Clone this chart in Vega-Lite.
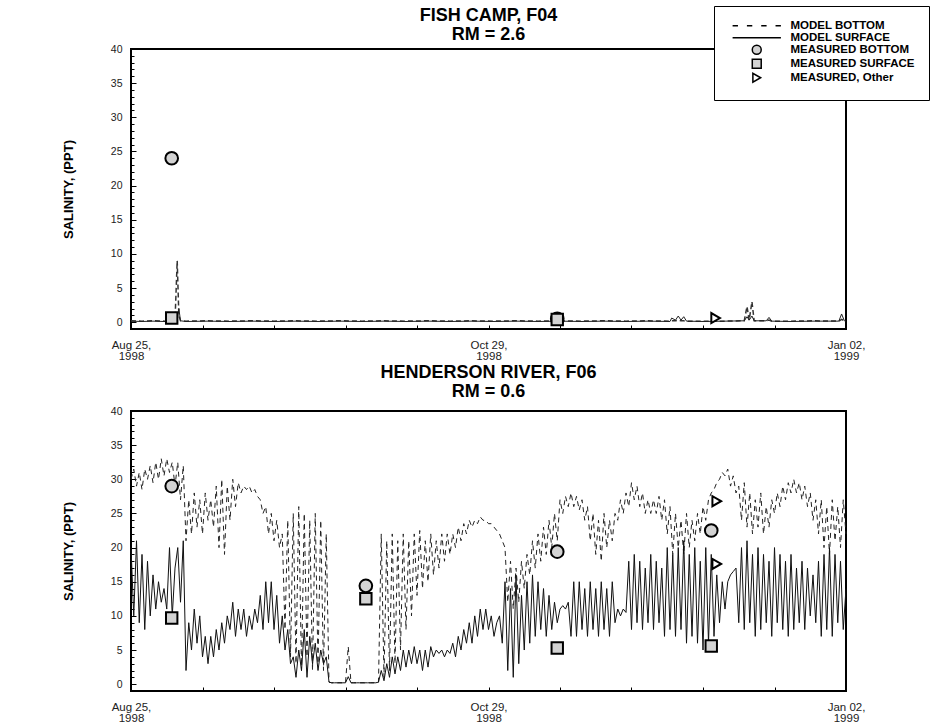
{
  "$schema": "https://vega.github.io/schema/vega-lite/v6.json",
  "background": "white",
  "padding": {"left": 61, "top": 4, "right": 5, "bottom": 0},
  "spacing": 0,
  "config": {
    "font": "Liberation Sans",
    "view": {"stroke": "black", "strokeWidth": 2},
    "axis": {"labelFont": "Liberation Sans", "labelFontSize": 10.5, "labelColor": "#222", "titleFont": "Liberation Sans", "titleFontSize": 13, "titleFontWeight": "bold", "titleColor": "black", "tickColor": "black", "domain": false, "grid": false},
    "title": {"font": "Liberation Sans", "fontSize": 18, "fontWeight": "bold", "color": "black", "anchor": "middle", "frame": "group"},
    "legend": {"title": null, "orient": "none", "legendX": 583, "legendY": -43, "fillColor": "white", "strokeColor": "black", "padding": 14,
      "labelFont": "Liberation Sans", "labelFontSize": 11.5, "labelFontWeight": "bold", "labelColor": "black",
      "symbolSize": 80, "symbolOffset": 23, "labelOffset": 28, "rowPadding": -2, "symbolStrokeWidth": 1.5}
  },
  "resolve": {"scale": {"shape": "independent", "fill": "independent", "size": "independent", "stroke": "independent"}, "legend": {"shape": "independent", "fill": "independent", "size": "independent", "stroke": "independent"}},
  "datasets": {
    "f04": [
      {"d":0,"s":0.15,"b":0.2},{"d":2,"s":0.1,"b":0.15},{"d":4,"s":0.15,"b":0.2},{"d":6,"s":0.1,"b":0.15},{"d":8,"s":0.15,"b":0.2},{"d":8.4,"s":0.3,"b":9},{"d":8.7,"s":2,"b":1},{"d":9,"s":0.2,"b":0.2},{"d":10,"s":0.1,"b":0.15},
      {"d":14,"s":0.15,"b":0.2},{"d":18,"s":0.1,"b":0.15},{"d":22,"s":0.15,"b":0.2},{"d":26,"s":0.1,"b":0.15},{"d":30,"s":0.15,"b":0.2},{"d":34,"s":0.1,"b":0.15},{"d":38,"s":0.15,"b":0.2},{"d":42,"s":0.1,"b":0.15},{"d":46,"s":0.15,"b":0.2},{"d":50,"s":0.1,"b":0.15},{"d":54,"s":0.15,"b":0.2},{"d":58,"s":0.1,"b":0.15},{"d":62,"s":0.15,"b":0.2},{"d":66,"s":0.1,"b":0.15},{"d":70,"s":0.15,"b":0.2},{"d":74,"s":0.1,"b":0.15},{"d":78,"s":0.15,"b":0.2},{"d":82,"s":0.1,"b":0.15},{"d":86,"s":0.15,"b":0.2},{"d":90,"s":0.1,"b":0.15},{"d":94,"s":0.15,"b":0.2},{"d":98,"s":0.1,"b":0.15},
      {"d":98.3,"s":0.6,"b":0.2},{"d":99,"s":0.3,"b":0.2},{"d":99.5,"s":0.9,"b":0.3},{"d":100,"s":0.3,"b":0.2},{"d":100.5,"s":0.8,"b":0.2},{"d":101,"s":0.15,"b":0.15},{"d":104,"s":0.1,"b":0.15},{"d":108,"s":0.15,"b":0.15},{"d":111.5,"s":0.2,"b":0.2},{"d":112,"s":0.8,"b":2.3},{"d":112.4,"s":0.3,"b":0.3},{"d":112.9,"s":0.9,"b":3},{"d":113.3,"s":0.2,"b":0.2},{"d":115.5,"s":0.2,"b":0.2},{"d":116,"s":0.7,"b":0.3},{"d":116.5,"s":0.15,"b":0.15},{"d":120,"s":0.1,"b":0.15},{"d":124,"s":0.15,"b":0.2},{"d":128.7,"s":0.15,"b":0.15},{"d":129.2,"s":1.2,"b":0.4},{"d":129.7,"s":0.2,"b":0.2},{"d":130,"s":0.15,"b":0.15}
    ],
    "f06": [
      {"d":0,"s":20,"b":30},{"d":0.5,"s":10,"b":31.5},{"d":1,"s":21,"b":29},{"d":1.5,"s":9,"b":31},{"d":2,"s":19,"b":28.5},{"d":2.5,"s":8,"b":31.5},{"d":3,"s":18,"b":30},{"d":3.5,"s":10,"b":32},{"d":4,"s":16,"b":29.5},{"d":4.5,"s":11,"b":32.5},
      {"d":5,"s":15,"b":30},{"d":5.5,"s":12,"b":33},{"d":6,"s":14,"b":30.5},{"d":6.5,"s":11,"b":33},{"d":7,"s":20,"b":31},{"d":7.5,"s":10,"b":32.5},{"d":8,"s":17,"b":29},{"d":8.5,"s":20,"b":32.5},{"d":9,"s":12,"b":27},{"d":9.5,"s":21,"b":32},
      {"d":10,"s":2,"b":21},{"d":10.5,"s":9,"b":27},{"d":11,"s":5,"b":22},{"d":11.5,"s":11,"b":28},{"d":12,"s":6,"b":23},{"d":12.5,"s":10,"b":27},{"d":13,"s":4,"b":22},{"d":13.5,"s":7,"b":28},{"d":14,"s":3,"b":24},{"d":14.5,"s":7,"b":27},
      {"d":15,"s":4,"b":23},{"d":15.5,"s":8,"b":29},{"d":16,"s":5,"b":20},{"d":16.5,"s":9,"b":30},{"d":17,"s":6,"b":19},{"d":17.5,"s":10,"b":29},{"d":18,"s":8,"b":24},{"d":18.5,"s":12,"b":30},{"d":19,"s":7,"b":26},{"d":19.5,"s":11,"b":29.5},
      {"d":20,"s":8,"b":28},{"d":20.5,"s":11,"b":29},{"d":21,"s":7,"b":28.5},{"d":21.5,"s":10,"b":29},{"d":22,"s":8,"b":28},{"d":22.5,"s":11,"b":28.5},{"d":23,"s":9,"b":27.5},{"d":23.5,"s":13,"b":27},{"d":24,"s":8,"b":25},{"d":24.5,"s":15,"b":26},
      {"d":25,"s":9,"b":22},{"d":25.5,"s":15,"b":25},{"d":26,"s":8,"b":21},{"d":26.5,"s":13,"b":24},{"d":27,"s":6,"b":20},{"d":27.5,"s":10,"b":22},{"d":28,"s":5,"b":8},{"d":28.5,"s":8,"b":24},{"d":29,"s":3,"b":4},{"d":29.5,"s":4,"b":25},
      {"d":30,"s":1,"b":3},{"d":30.5,"s":5,"b":26},{"d":31,"s":2,"b":2},{"d":31.5,"s":8,"b":25},{"d":32,"s":1,"b":4},{"d":32.5,"s":7,"b":24},{"d":33,"s":3,"b":2},{"d":33.5,"s":6,"b":25},{"d":34,"s":2,"b":3},{"d":34.5,"s":5,"b":24},
      {"d":35,"s":3,"b":2},{"d":35.5,"s":4,"b":22},{"d":36,"s":0.3,"b":0.3},{"d":36.5,"s":0.2,"b":0.2},{"d":37,"s":0.2,"b":0.2},{"d":37.5,"s":0.2,"b":0.2},{"d":38,"s":0.2,"b":0.2},{"d":38.5,"s":0.2,"b":0.2},{"d":39,"s":0.2,"b":0.2},{"d":39.5,"s":1.1,"b":5.5},
      {"d":40,"s":0.2,"b":0.2},{"d":40.5,"s":0.2,"b":0.2},{"d":41,"s":0.2,"b":0.2},{"d":41.5,"s":0.2,"b":0.2},{"d":42,"s":0.2,"b":0.2},{"d":42.5,"s":0.2,"b":0.2},{"d":43,"s":0.2,"b":0.2},{"d":43.5,"s":0.2,"b":0.2},{"d":44,"s":0.2,"b":0.2},{"d":44.5,"s":0.2,"b":0.2},
      {"d":45,"s":0.3,"b":0.3},{"d":45.5,"s":2,"b":22},{"d":46,"s":0.5,"b":1},{"d":46.5,"s":3,"b":21},{"d":47,"s":1,"b":2},{"d":47.5,"s":4,"b":22},{"d":48,"s":1.5,"b":3},{"d":48.5,"s":4,"b":21},{"d":49,"s":2,"b":5},{"d":49.5,"s":5,"b":22},
      {"d":50,"s":2.5,"b":8},{"d":50.5,"s":5,"b":21},{"d":51,"s":3,"b":10},{"d":51.5,"s":5.5,"b":22},{"d":52,"s":3,"b":13},{"d":52.5,"s":5,"b":22.5},{"d":53,"s":2,"b":14},{"d":53.5,"s":5,"b":21},{"d":54,"s":2.5,"b":15},{"d":54.5,"s":5.5,"b":22},
      {"d":55,"s":4,"b":16},{"d":55.5,"s":5,"b":21},{"d":56,"s":4.5,"b":17},{"d":56.5,"s":5,"b":22},{"d":57,"s":4,"b":18},{"d":57.5,"s":5,"b":22},{"d":58,"s":4.5,"b":19},{"d":58.5,"s":6,"b":22},{"d":59,"s":4,"b":20},{"d":59.5,"s":7,"b":23},
      {"d":60,"s":5,"b":21},{"d":60.5,"s":8,"b":23.5},{"d":61,"s":6,"b":22},{"d":61.5,"s":9,"b":24},{"d":62,"s":6,"b":23},{"d":62.5,"s":10,"b":24},{"d":63,"s":7,"b":23.5},{"d":63.5,"s":11,"b":24.5},{"d":64,"s":8,"b":24},{"d":64.5,"s":11,"b":24},
      {"d":65,"s":8,"b":23.5},{"d":65.5,"s":10,"b":23.5},{"d":66,"s":7,"b":23},{"d":66.5,"s":9,"b":22.5},{"d":67,"s":10,"b":22},{"d":67.5,"s":6,"b":21},{"d":68,"s":15,"b":20},{"d":68.5,"s":2,"b":12},{"d":69,"s":14,"b":18},{"d":69.5,"s":1,"b":11},
      {"d":70,"s":16,"b":17},{"d":70.5,"s":3,"b":12},{"d":71,"s":13,"b":18},{"d":71.5,"s":5,"b":14},{"d":72,"s":15,"b":19},{"d":72.5,"s":6,"b":16},{"d":73,"s":16,"b":21},{"d":73.5,"s":7,"b":17},{"d":74,"s":15,"b":22},{"d":74.5,"s":8,"b":18},
      {"d":75,"s":14,"b":23},{"d":75.5,"s":7,"b":19},{"d":76,"s":13,"b":24},{"d":76.5,"s":8,"b":20},{"d":77,"s":12,"b":25},{"d":77.5,"s":9,"b":21},{"d":78,"s":11,"b":27},{"d":78.5,"s":11.5,"b":25},{"d":79,"s":11,"b":27.5},{"d":79.5,"s":12,"b":26},
      {"d":80,"s":7,"b":28},{"d":80.5,"s":15,"b":26},{"d":81,"s":7,"b":27.5},{"d":81.5,"s":15,"b":25.5},{"d":82,"s":8,"b":27},{"d":82.5,"s":14,"b":24},{"d":83,"s":7,"b":26},{"d":83.5,"s":15,"b":21},{"d":84,"s":8,"b":25},{"d":84.5,"s":14,"b":19},
      {"d":85,"s":7,"b":24},{"d":85.5,"s":15,"b":18},{"d":86,"s":8,"b":25},{"d":86.5,"s":14,"b":20},{"d":87,"s":7,"b":24},{"d":87.5,"s":15,"b":21},{"d":88,"s":9,"b":25},{"d":88.5,"s":11,"b":24},{"d":89,"s":10,"b":27},{"d":89.5,"s":11,"b":25},
      {"d":90,"s":10.5,"b":28},{"d":90.5,"s":18,"b":26},{"d":91,"s":8,"b":29.5},{"d":91.5,"s":19,"b":27},{"d":92,"s":9,"b":29},{"d":92.5,"s":18,"b":26},{"d":93,"s":8,"b":28},{"d":93.5,"s":17,"b":25},{"d":94,"s":9,"b":27},{"d":94.5,"s":19,"b":25},
      {"d":95,"s":8,"b":27},{"d":95.5,"s":18,"b":25},{"d":96,"s":9,"b":27.5},{"d":96.5,"s":17,"b":24},{"d":97,"s":7,"b":27},{"d":97.5,"s":20,"b":22},{"d":98,"s":8,"b":26},{"d":98.5,"s":19,"b":19},{"d":99,"s":7,"b":25},{"d":99.5,"s":20,"b":20},
      {"d":100,"s":8,"b":24},{"d":100.5,"s":21,"b":19},{"d":101,"s":6,"b":25},{"d":101.5,"s":19,"b":20},{"d":102,"s":7,"b":24},{"d":102.5,"s":20,"b":21},{"d":103,"s":6,"b":25},{"d":103.5,"s":18,"b":22},{"d":104,"s":5,"b":26},{"d":104.5,"s":20,"b":24},
      {"d":105,"s":6,"b":27},{"d":105.5,"s":19,"b":28},{"d":106,"s":7,"b":28.5},{"d":106.5,"s":16,"b":29.5},{"d":107,"s":9,"b":30},{"d":107.5,"s":15,"b":31},{"d":108,"s":11,"b":30.5},{"d":108.5,"s":15,"b":31.5},{"d":109,"s":16,"b":29},{"d":109.5,"s":16.5,"b":30.5},
      {"d":110,"s":17,"b":28},{"d":110.5,"s":9,"b":29},{"d":111,"s":20,"b":24},{"d":111.5,"s":8,"b":29.5},{"d":112,"s":21,"b":23},{"d":112.5,"s":9,"b":28},{"d":113,"s":19,"b":22},{"d":113.5,"s":7,"b":27},{"d":114,"s":20,"b":23},{"d":114.5,"s":8,"b":28},
      {"d":115,"s":19,"b":22},{"d":115.5,"s":9,"b":26},{"d":116,"s":18,"b":23},{"d":116.5,"s":7,"b":27},{"d":117,"s":20,"b":25},{"d":117.5,"s":9,"b":28},{"d":118,"s":19,"b":26},{"d":118.5,"s":8,"b":29},{"d":119,"s":18,"b":27},{"d":119.5,"s":7,"b":29.5},
      {"d":120,"s":19,"b":28},{"d":120.5,"s":8,"b":30},{"d":121,"s":17,"b":28},{"d":121.5,"s":9,"b":29.5},{"d":122,"s":18,"b":27},{"d":122.5,"s":8,"b":29},{"d":123,"s":17,"b":26},{"d":123.5,"s":10,"b":28},{"d":124,"s":16,"b":24},{"d":124.5,"s":9,"b":27},
      {"d":125,"s":18,"b":22},{"d":125.5,"s":7,"b":27},{"d":126,"s":19,"b":20},{"d":126.5,"s":8,"b":26},{"d":127,"s":20,"b":19},{"d":127.5,"s":7,"b":27},{"d":128,"s":19,"b":21},{"d":128.5,"s":9,"b":26},{"d":129,"s":18,"b":20},{"d":129.5,"s":8,"b":27},{"d":130,"s":14,"b":22}
    ],
    "meas": [
      {"panel":"F04","d":7.4,"v":24,"series":"MEASURED BOTTOM"},
      {"panel":"F04","d":7.4,"v":0.6,"series":"MEASURED SURFACE"},
      {"panel":"F04","d":77.5,"v":0.5,"series":"MEASURED BOTTOM"},
      {"panel":"F04","d":77.5,"v":0.4,"series":"MEASURED SURFACE"},
      {"panel":"F04","d":106.3,"v":0.6,"series":"MEASURED, Other"},
      {"panel":"F06","d":7.4,"v":29.0,"series":"MEASURED BOTTOM"},
      {"panel":"F06","d":7.4,"v":9.7,"series":"MEASURED SURFACE"},
      {"panel":"F06","d":42.7,"v":14.4,"series":"MEASURED BOTTOM"},
      {"panel":"F06","d":42.7,"v":12.5,"series":"MEASURED SURFACE"},
      {"panel":"F06","d":77.5,"v":19.4,"series":"MEASURED BOTTOM"},
      {"panel":"F06","d":77.5,"v":5.3,"series":"MEASURED SURFACE"},
      {"panel":"F06","d":105.5,"v":22.5,"series":"MEASURED BOTTOM"},
      {"panel":"F06","d":105.5,"v":5.6,"series":"MEASURED SURFACE"},
      {"panel":"F06","d":106.5,"v":26.8,"series":"MEASURED, Other"},
      {"panel":"F06","d":106.5,"v":17.6,"series":"MEASURED, Other"}
    ]
  },
  "vconcat": [
    {
      "width": 715, "height": 280,
      "title": {"text": ["FISH CAMP, F04", "RM = 2.6"], "lineHeight": 19, "offset": -38},
      "resolve": {"axis": {"y": "independent"}},
      "layer": [
        {
          "data": {"name": "f04"},
          "mark": {"type": "line", "color": "#333", "strokeWidth": 1.5, "strokeDash": [5, 3]},
          "encoding": {
            "x": {"field": "d", "type": "quantitative", "scale": {"domain": [0, 130], "nice": false, "zero": false},
              "axis": {"title": null, "values": [0,13,26,39,52,65,78,91,104,117,130], "tickSize": -4, "labelPadding": 14, "labelFontSize": 11.5, "labelOverlap": false, "labelFlush": false, "labelBound": false, "labelLineHeight": 11,
                "labelExpr": "datum.value == 0 ? ['Aug 25,', '1998'] : datum.value == 65 ? ['Oct 29,', '1998'] : datum.value == 130 ? ['Jan 02,', '1999'] : ''"}},
            "y": {"field": "b", "type": "quantitative", "scale": {"domain": [-1, 40], "nice": false, "zero": false},
              "axis": {"orient": "left", "title": "SALINITY, (PPT)", "values": [0,5,10,15,20,25,30,35,40], "tickSize": -5, "labelOverlap": false, "labelPadding": 14, "titlePadding": 35}}
          }
        },
        {
          "data": {"name": "f04"},
          "mark": {"type": "line", "color": "#222", "strokeWidth": 1},
          "encoding": {
            "x": {"field": "d", "type": "quantitative"},
            "y": {"field": "s", "type": "quantitative",
              "axis": {"orient": "left", "title": null, "labels": false, "values": [0,1,2,3,4,5,6,7,8,9,10,11,12,13,14,15,16,17,18,19,20,21,22,23,24,25,26,27,28,29,30,31,32,33,34,35,36,37,38,39,40], "tickSize": -3}}
          }
        },
        {
          "data": {"name": "meas"},
          "transform": [{"filter": "datum.panel == 'F04'"}],
          "mark": {"type": "point", "filled": true, "opacity": 1, "stroke": "black", "strokeWidth": 2},
          "encoding": {
            "x": {"field": "d", "type": "quantitative"},
            "y": {"field": "v", "type": "quantitative", "axis": null},
            "shape": {"field": "series", "type": "nominal",
              "scale": {"domain": ["MODEL BOTTOM", "MODEL SURFACE", "MEASURED BOTTOM", "MEASURED SURFACE", "MEASURED, Other"],
                "range": ["M-5.4,0H-4.2M-2.2,0H-1M1,0H2.2M4.2,0H5.4", "M-5.4,0H5.4", "circle", "square", "triangle-right"]},
              "legend": {}},
            "fill": {"field": "series", "type": "nominal",
              "scale": {"domain": ["MODEL BOTTOM", "MODEL SURFACE", "MEASURED BOTTOM", "MEASURED SURFACE", "MEASURED, Other"], "range": ["transparent", "transparent", "#d3d3d3", "#d3d3d3", "white"]},
              "legend": {}},
            "stroke": {"field": "series", "type": "nominal",
              "scale": {"domain": ["MODEL BOTTOM", "MODEL SURFACE", "MEASURED BOTTOM", "MEASURED SURFACE", "MEASURED, Other"], "range": ["black", "black", "black", "black", "black"]},
              "legend": {}},
            "size": {"field": "series", "type": "nominal",
              "scale": {"domain": ["MEASURED BOTTOM", "MEASURED SURFACE", "MEASURED, Other"], "range": [160, 100, 110]},
              "legend": null}
          }
        }
      ]
    },
    {
      "width": 715, "height": 280,
      "title": {"text": ["HENDERSON RIVER, F06", "RM = 0.6"], "lineHeight": 19, "offset": 5},
      "resolve": {"axis": {"y": "independent"}},
      "layer": [
        {
          "data": {"name": "f06"},
          "mark": {"type": "line", "color": "#222", "strokeWidth": 1, "strokeDash": [5, 4]},
          "encoding": {
            "x": {"field": "d", "type": "quantitative", "scale": {"domain": [0, 130], "nice": false, "zero": false},
              "axis": {"title": null, "values": [0,13,26,39,52,65,78,91,104,117,130], "tickSize": -4, "labelPadding": 14, "labelFontSize": 11.5, "labelOverlap": false, "labelFlush": false, "labelBound": false, "labelLineHeight": 11,
                "labelExpr": "datum.value == 0 ? ['Aug 25,', '1998'] : datum.value == 65 ? ['Oct 29,', '1998'] : datum.value == 130 ? ['Jan 02,', '1999'] : ''"}},
            "y": {"field": "b", "type": "quantitative", "scale": {"domain": [-1, 40], "nice": false, "zero": false},
              "axis": {"orient": "left", "title": "SALINITY, (PPT)", "values": [0,5,10,15,20,25,30,35,40], "tickSize": -5, "labelOverlap": false, "labelPadding": 14, "titlePadding": 35}}
          }
        },
        {
          "data": {"name": "f06"},
          "mark": {"type": "line", "color": "#111", "strokeWidth": 1},
          "encoding": {
            "x": {"field": "d", "type": "quantitative"},
            "y": {"field": "s", "type": "quantitative",
              "axis": {"orient": "left", "title": null, "labels": false, "values": [0,1,2,3,4,5,6,7,8,9,10,11,12,13,14,15,16,17,18,19,20,21,22,23,24,25,26,27,28,29,30,31,32,33,34,35,36,37,38,39,40], "tickSize": -3}}
          }
        },
        {
          "data": {"name": "meas"},
          "transform": [{"filter": "datum.panel == 'F06'"}],
          "mark": {"type": "point", "filled": true, "opacity": 1, "stroke": "black", "strokeWidth": 2},
          "encoding": {
            "x": {"field": "d", "type": "quantitative"},
            "y": {"field": "v", "type": "quantitative", "axis": null},
            "shape": {"field": "series", "type": "nominal", "scale": {"domain": ["MEASURED BOTTOM", "MEASURED SURFACE", "MEASURED, Other"], "range": ["circle", "square", "triangle-right"]}, "legend": null},
            "fill": {"field": "series", "type": "nominal", "scale": {"domain": ["MEASURED BOTTOM", "MEASURED SURFACE", "MEASURED, Other"], "range": ["#d3d3d3", "#d3d3d3", "white"]}, "legend": null},
            "size": {"field": "series", "type": "nominal", "scale": {"domain": ["MEASURED BOTTOM", "MEASURED SURFACE", "MEASURED, Other"], "range": [160, 100, 110]}, "legend": null}
          }
        }
      ]
    }
  ]
}
